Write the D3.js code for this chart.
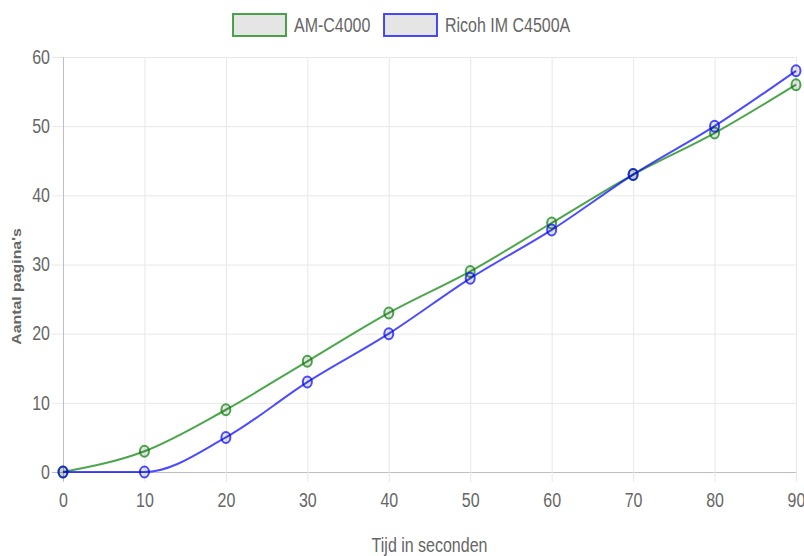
<!DOCTYPE html>
<html>
<head>
<meta charset="utf-8">
<script src="https://cdnjs.cloudflare.com/ajax/libs/d3/7.8.5/d3.min.js"></script>
<style>
  body { margin: 0; background: #fff; }
  text { font-family: "Liberation Sans", Arial, Helvetica, sans-serif; fill: #666; }
</style>
</head>
<body>
<div id="chart"></div>
<script>
// data
var seconds = [0, 10, 20, 30, 40, 50, 60, 70, 80, 90];
var amC4000 = [0, 3, 9, 16, 23, 29, 36, 43, 49, 56];
var ricohC4500A = [0, 0, 5, 13, 20, 28, 35, 43, 50, 58];
var yTicks = [0, 10, 20, 30, 40, 50, 60];
var seriesNames = ['AM-C4000', 'Ricoh IM C4500A'];

var width = 804,
    height = 556,
    stretch = 1.22, // picture is stretched vertically
    margin = { left: 63, right: 8, top: 57, bottom: 84 };

var colors = ['rgba(0,128,0,0.7)', 'rgba(0,0,255,0.7)'];

var svg = d3.select('#chart').append('svg')
    .attr('width', width)
    .attr('height', height);

var xScale = d3.scaleLinear().domain([0, 90]).range([margin.left, width - margin.right]);
var yScale = d3.scaleLinear().domain([0, 60]).range([height - margin.bottom, margin.top]);

var x0 = xScale(0), xEnd = xScale(90), y0 = yScale(0), yTop = yScale(60);

// horizontal grid + y labels
var yAxis = d3.axisLeft(yScale)
    .tickValues(yTicks)
    .tickSize(-(xEnd - (x0 - 11)))
    .tickPadding(2);

svg.append('g')
    .attr('class', 'axis y')
    .attr('transform', 'translate(' + (x0 - 11) + ',0)')
    .call(yAxis)
    .call(function (g) {
        g.select('.domain').remove();
        g.selectAll('line').attr('stroke', function (d) { return d === 0 ? '#bfbfbf' : '#e8e8e8'; });
        g.selectAll('text')
            .attr('transform', 'scale(1,' + stretch + ')')
            .style('font-size', '16px');
    });

// vertical grid + x labels
var xAxis = d3.axisBottom(xScale)
    .tickValues(seconds)
    .tickSize(-(y0 + 10 - yTop));

svg.append('g')
    .attr('class', 'axis x')
    .attr('transform', 'translate(0,' + (y0 + 10) + ')')
    .call(xAxis)
    .call(function (g) {
        g.select('.domain').remove();
        g.selectAll('line').attr('stroke', function (d) { return d === 0 ? '#bfbfbf' : '#e8e8e8'; });
        g.selectAll('text')
            .attr('y', 0)
            .attr('dy', '0.35em')
            .attr('transform', 'translate(0,18) scale(1,' + stretch + ')')
            .style('font-size', '16px');
    });

// axis titles
svg.append('text')
    .attr('transform', 'translate(' + ((x0 + xEnd) / 2) + ',' + 545 + ') scale(1,' + stretch + ')')
    .attr('text-anchor', 'middle')
    .attr('dy', '0.35em')
    .style('font-size', '16px')
    .text('Tijd in seconden');

svg.append('text')
    .attr('transform', 'translate(16,' + ((y0 + yTop) / 2 + 22) + ') scale(1,' + stretch + ') rotate(-90)')
    .attr('text-anchor', 'middle')
    .attr('dy', '0.35em')
    .style('font-size', '13px')
    .style('font-weight', 'bold')
    .text("Aantal pagina's");

// lines and points
var line = d3.line()
    .x(function (d) { return xScale(d.x); })
    .y(function (d) { return yScale(d.y); })
    .curve(d3.curveMonotoneX);

[amC4000, ricohC4500A].forEach(function (values, i) {
    var data = values.map(function (v, j) { return { x: seconds[j], y: v }; });

    svg.append('path')
        .attr('fill', 'none')
        .attr('stroke', colors[i])
        .attr('stroke-width', 2)
        .attr('d', line(data));

    svg.append('g').selectAll('ellipse')
        .data(data)
        .enter().append('ellipse')
        .attr('cx', function (d) { return xScale(d.x); })
        .attr('cy', function (d) { return yScale(d.y); })
        .attr('rx', 4.5)
        .attr('ry', 4.5 * stretch)
        .attr('fill', 'rgba(0,0,0,0.1)')
        .attr('stroke', colors[i])
        .attr('stroke-width', 2);
});

// legend
var legendX = [233, 384];
seriesNames.forEach(function (name, i) {
    var g = svg.append('g').attr('transform', 'translate(' + legendX[i] + ',14)');
    g.append('rect')
        .attr('width', 53)
        .attr('height', 22)
        .attr('fill', 'rgba(0,0,0,0.1)')
        .attr('stroke', colors[i])
        .attr('stroke-width', 2);
    g.append('text')
        .attr('transform', 'translate(61,11) scale(1,' + stretch + ')')
        .attr('dy', '0.35em')
        .style('font-size', '16px')
        .text(name);
});
</script>
</body>
</html>
